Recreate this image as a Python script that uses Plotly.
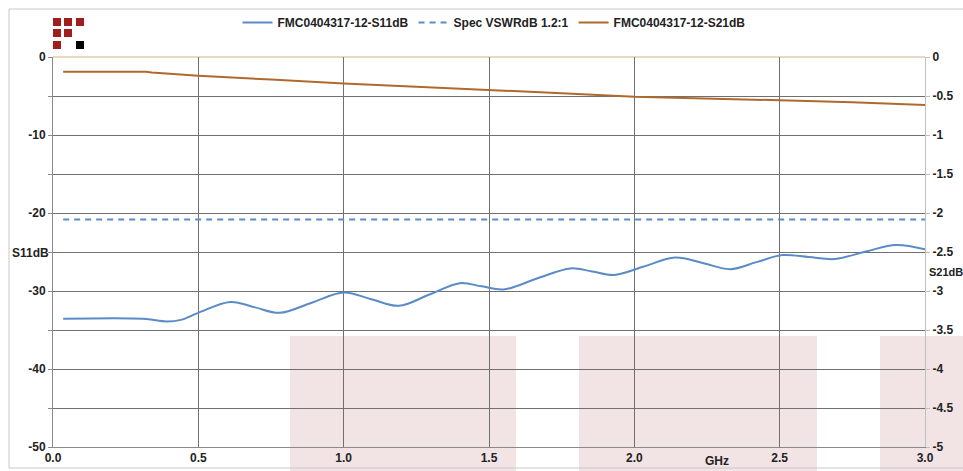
import plotly.graph_objects as go

# ---- data ----
s11_ghz = [0.035, 0.31, 0.39, 0.44, 0.5, 0.61, 0.695, 0.78, 0.89, 1.0, 1.095, 1.19, 1.295,
           1.40, 1.475, 1.55, 1.665, 1.78, 1.855, 1.93, 2.03, 2.14, 2.235, 2.33, 2.42, 2.51, 2.60, 2.69,
           2.80, 2.90, 3.0]
s11_db = [-33.55, -33.55, -33.9, -33.7, -32.8, -31.4, -32.1, -32.8, -31.5, -30.2, -31.05, -31.9, -30.45,
          -29.0, -29.4, -29.8, -28.4, -27.1, -27.5, -27.95, -26.9, -25.7, -26.4, -27.2, -26.3, -25.4, -25.65, -25.9,
          -24.9, -24.1, -24.65]

spec_ghz = [0.035, 3.0]
spec_db = [-20.83, -20.83]

s21_ghz = [0.035, 0.32, 0.34, 0.5, 0.75, 1.0, 1.25, 1.5, 1.75, 2.0, 2.25, 2.5, 2.75, 3.0]
s21_db = [-0.19, -0.19, -0.20, -0.24, -0.29, -0.34, -0.38, -0.42, -0.465, -0.51, -0.53, -0.555, -0.58, -0.615]

names = ["FMC0404317-12-S11dB", "Spec VSWRdB 1.2:1", "FMC0404317-12-S21dB"]

left_ticks = [0, -5, -10, -15, -20, -25, -30, -35, -40, -45, -50]
left_text = ["0", "", "-10", "", "-20", "", "-30", "", "-40", "", "-50"]
right_ticks = [0, -0.5, -1, -1.5, -2, -2.5, -3, -3.5, -4, -4.5, -5]
right_text = ["0", "-0.5", "-1", "-1.5", "-2", "-2.5", "-3", "-3.5", "-4", "-4.5", "-5"]
x_ticks = [0.0, 0.5, 1.0, 1.5, 2.0, 2.5, 3.0]

BLUE = "#5b8bc6"
BROWN = "#b0692d"
FONT = dict(family="Liberation Sans, Arial, sans-serif", size=12, color="#222222", weight="bold")

fig = go.Figure()
fig.add_trace(go.Scatter(x=s11_ghz, y=s11_db, name=names[0], mode="lines",
                         line=dict(color=BLUE, width=2, shape="spline", smoothing=1.0)))
fig.add_trace(go.Scatter(x=spec_ghz, y=spec_db, name=names[1], mode="lines",
                         line=dict(color=BLUE, width=2, dash="6px,5px")))
fig.add_trace(go.Scatter(x=s21_ghz, y=s21_db, name=names[2], mode="lines", yaxis="y2",
                         line=dict(color=BROWN, width=2)))

W, H = 963, 471
L, R, T, B = 53, 38, 57, 24
pw, ph = W - L - R, H - T - B

def px(x):
    return (x - L) / pw

def py(y):
    return (H - B - y) / ph

shapes = []
# pink background blocks
for x0, x1 in [(290, 516), (579, 817), (880, 965)]:
    shapes.append(dict(type="rect", xref="paper", yref="paper", x0=px(x0), x1=px(x1),
                       y0=py(472), y1=py(336), fillcolor="#f2e4e4", line=dict(width=0), layer="below"))
# outer border
shapes.append(dict(type="line", xref="paper", yref="paper", x0=px(9), x1=px(9), y0=py(9), y1=py(468),
                   line=dict(color="#c8c8c8", width=1)))
shapes.append(dict(type="line", xref="paper", yref="paper", x0=px(9), x1=px(965), y0=py(9), y1=py(9),
                   line=dict(color="#c8c8c8", width=1)))
shapes.append(dict(type="line", xref="paper", yref="paper", x0=px(9), x1=px(965), y0=py(468), y1=py(468),
                   line=dict(color="#c8c8c8", width=1)))
# top (zero) line
shapes.append(dict(type="line", xref="paper", yref="paper", x0=0, x1=1, y0=1, y1=1,
                   line=dict(color="#ecd8c2", width=2), layer="below"))
# logo squares
RED = "#a11d1d"
for (cx, cy, col) in [(53, 18, RED), (64, 18, RED), (76, 18, RED),
                      (53, 29, RED), (64, 29, RED),
                      (53, 41, RED), (76, 41, "#000000")]:
    shapes.append(dict(type="rect", xref="paper", yref="paper", x0=px(cx), x1=px(cx + 8),
                       y0=py(cy + 8), y1=py(cy), fillcolor=col, line=dict(width=0)))

annotations = [
    dict(text="S11dB", xref="paper", yref="paper", x=px(10), y=py(253), xanchor="left", yanchor="middle",
         showarrow=False, font=FONT),
    dict(text="S21dB", xref="paper", yref="paper", x=px(927), y=py(272), xanchor="left", yanchor="middle",
         showarrow=False, font=dict(FONT, size=11)),
    dict(text="GHz", xref="paper", yref="paper", x=px(717), y=py(461), xanchor="center", yanchor="middle",
         showarrow=False, font=FONT),
]

fig.update_layout(
    width=W, height=H,
    margin=dict(l=L, r=R, t=T, b=B, pad=0, autoexpand=False),
    paper_bgcolor="white", plot_bgcolor="rgba(0,0,0,0)",
    font=FONT,
    showlegend=True,
    legend=dict(orientation="h", x=px(494), xanchor="center", y=py(8), yanchor="top",
                font=FONT, bgcolor="rgba(0,0,0,0)", itemwidth=30, tracegroupgap=0),
    xaxis=dict(range=[0, 3], tickvals=x_ticks, ticktext=[f"{v:.1f}" for v in x_ticks],
               showgrid=True, gridcolor="#707070", gridwidth=1, zeroline=False,
               showline=True, linecolor="#8a8a8a", linewidth=1, automargin=False,
               ticks="", tickfont=FONT),
    yaxis=dict(range=[-50, 0], tickvals=left_ticks, ticktext=left_text,
               showgrid=True, gridcolor="#707070", gridwidth=1, zeroline=False,
               showline=True, linecolor="#8a8a8a", linewidth=1, automargin=False,
               ticks="outside", ticklen=4, tickcolor="#8a8a8a", tickfont=FONT),
    yaxis2=dict(range=[-5, 0], tickvals=right_ticks, ticktext=right_text, overlaying="y", side="right",
                showgrid=False, zeroline=False, showline=True, linecolor="#c0c0c0", linewidth=1,
                automargin=False,
                ticks="outside", ticklen=4, tickcolor="#c0c0c0", tickfont=FONT),
    shapes=shapes,
    annotations=annotations,
)

fig.write_html("out.html", config={"displayModeBar": False},
               post_script="document.body.style.margin='0';document.body.style.overflow='hidden';")
